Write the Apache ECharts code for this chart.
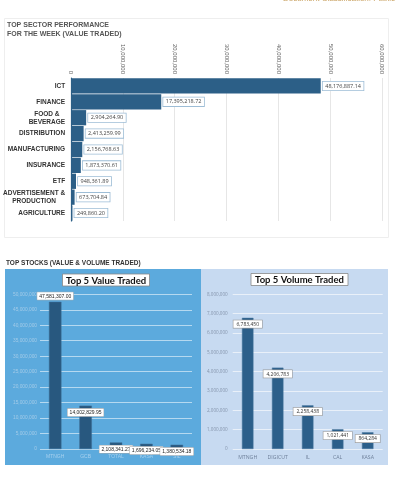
<!DOCTYPE html>
<html>
<head>
<meta charset="utf-8">
<script src="https://cdn.jsdelivr.net/npm/echarts@6/dist/echarts.min.js"></script>
<style>html,body{margin:0;padding:0;background:#fff;}#c{width:412px;height:490px;}</style>
</head>
<body>
<div id="c"></div>
<script>
// ---- data ----
var sectorCategories = ['ICT', 'FINANCE', 'FOOD &\nBEVERAGE', 'DISTRIBUTION', 'MANUFACTURING', 'INSURANCE', 'ETF', 'ADVERTISEMENT &\nPRODUCTION', 'AGRICULTURE'];
var sectorValues = [48176887.14, 17395218.72, 2904264.90, 2413259.99, 2156768.63, 1873370.61, 948361.89, 673704.84, 249860.20];
var sectorTicks = [0, 10000000, 20000000, 30000000, 40000000, 50000000, 60000000];

var valueStocks = ['MTNGH', 'GCB', 'TOTAL', 'KASA', 'SIL'];
var valueTraded = [47581307.00, 14002829.95, 2108341.27, 1696234.05, 1380534.18];
var valueTicks = [0, 5000000, 10000000, 15000000, 20000000, 25000000, 30000000, 35000000, 40000000, 45000000, 50000000];

var volumeStocks = ['MTNGH', 'DIGICUT', 'IL', 'CAL', 'KASA'];
var volumeTraded = [6783450, 4206783, 2258438, 1021441, 864284];
var volumeTicks = [0, 1000000, 2000000, 3000000, 4000000, 5000000, 6000000, 7000000, 8000000];

function fmt(v, d) {
  var s = Number(v).toFixed(d);
  var parts = s.split('.');
  parts[0] = parts[0].replace(/\B(?=(\d{3})+(?!\d))/g, ',');
  return parts.join('.');
}
function tickInfo(t) { return { min: t[0], max: t[t.length - 1], interval: t[1] - t[0] }; }
var st = tickInfo(sectorTicks), vt = tickInfo(valueTicks), ot = tickInfo(volumeTicks);

var chart = echarts.init(document.getElementById('c'), null, { renderer: 'canvas' });
var arial = 'Liberation Sans, Arial, sans-serif';
var cal = 'Open Sans, sans-serif';

var option = {
  backgroundColor: '#ffffff',
  animation: false,
  graphic: [
    { type: 'rect', z: -10, shape: { x: 4.5, y: 18.5, width: 384, height: 219 }, style: { fill: '#fff', stroke: '#eeeeee', lineWidth: 1 } },
    { type: 'rect', z: -10, shape: { x: 5, y: 269, width: 196, height: 196 }, style: { fill: '#5caadd' } },
    { type: 'rect', z: -10, shape: { x: 201, y: 269, width: 187, height: 196 }, style: { fill: '#c7daf1' } },
    { type: 'text', z: 5, left: 283, top: -5, style: { text: 'Document Classification: Public', fill: '#c9a262', font: '8px ' + arial } }
  ],
  title: [
    { text: 'TOP SECTOR PERFORMANCE\nFOR THE WEEK (VALUE TRADED)', left: 7, top: 20.5, padding: 0,
      textStyle: { fontFamily: arial, fontWeight: 'bold', fontSize: 7, color: '#555', lineHeight: 9 } },
    { text: 'TOP STOCKS (VALUE & VOLUME TRADED)', left: 6, top: 259.5, padding: 0,
      textStyle: { fontFamily: arial, fontWeight: 'bold', fontSize: 6.5, color: '#333' } },
    { text: 'Top 5 Value Traded', left: 102, textAlign: 'center', top: 274, padding: [1.5, 4, 1, 4],
      backgroundColor: '#fff', borderColor: '#888', borderWidth: 0.8,
      textStyle: { fontFamily: 'Lato, sans-serif', fontWeight: 'bold', fontSize: 9.5, color: '#111' } },
    { text: 'Top 5 Volume Traded', left: 295.5, textAlign: 'center', top: 273.5, padding: [1.5, 4, 1, 4],
      backgroundColor: '#fff', borderColor: '#888', borderWidth: 0.8,
      textStyle: { fontFamily: 'Lato, sans-serif', fontWeight: 'bold', fontSize: 9.5, color: '#111' } }
  ],
  grid: [
    { left: 71, top: 78, width: 311, height: 143 },
    { left: 40, top: 294.3, width: 152, height: 154.7 },
    { left: 232.7, top: 294.3, width: 150, height: 154.7 }
  ],
  xAxis: [
    { gridIndex: 0, type: 'value', position: 'top', min: st.min, max: st.max, interval: st.interval,
      axisLine: { show: false }, axisTick: { show: false },
      splitLine: { lineStyle: { color: '#e6e6e6', width: 1 } },
      axisLabel: { rotate: 90, margin: 4, fontSize: 6, color: '#666', fontFamily: arial, formatter: function (v) { return fmt(v, 0); } } },
    { gridIndex: 1, type: 'category', data: valueStocks,
      axisLine: { show: false }, axisTick: { show: false },
      axisLabel: { margin: 5, fontSize: 5, color: '#a6d0ee', fontFamily: arial } },
    { gridIndex: 2, type: 'category', data: volumeStocks,
      axisLine: { show: false }, axisTick: { show: false },
      axisLabel: { margin: 6, fontSize: 5.2, color: '#6f819b', fontFamily: cal } }
  ],
  yAxis: [
    { gridIndex: 0, type: 'category', inverse: true, data: sectorCategories,
      axisLine: { show: true, lineStyle: { color: '#2c5f87', width: 1.2 } }, axisTick: { show: false },
      axisLabel: { margin: 6, formatter: function (v) { return v.split('\n').map(function (s) { return '{c|' + s + '}'; }).join('\n'); },
        rich: { c: { align: 'center', fontFamily: arial, fontWeight: 'bold', fontSize: 6.5, color: '#333', lineHeight: 8 } } } },
    { gridIndex: 1, type: 'value', min: vt.min, max: vt.max, interval: vt.interval,
      axisLine: { show: false }, axisTick: { show: false },
      splitLine: { lineStyle: { color: 'rgba(255,255,255,0.55)', width: 1 } },
      axisLabel: { margin: 3, fontSize: 4.8, color: '#a3cbe8', fontFamily: arial, formatter: function (v) { return fmt(v, 0); } } },
    { gridIndex: 2, type: 'value', min: ot.min, max: ot.max, interval: ot.interval,
      axisLine: { show: false }, axisTick: { show: false },
      splitLine: { lineStyle: { color: 'rgba(255,255,255,0.6)', width: 1 } },
      axisLabel: { margin: 5, fontSize: 4.6, color: '#8494ab', fontFamily: cal, formatter: function (v) { return fmt(v, 0); } } }
  ],
  series: [
    { type: 'bar', xAxisIndex: 0, yAxisIndex: 0, data: sectorValues, barCategoryGap: '4%',
      itemStyle: { color: '#2c5f87' },
      label: { show: true, position: 'right', distance: 2, formatter: function (p) { return fmt(p.value, 2); },
        fontFamily: cal, fontSize: 5.5, color: '#444', backgroundColor: '#fff', borderColor: '#9dbdd6', borderWidth: 0.8, padding: [1.5, 2.5, 1, 2.5] } },
    { type: 'bar', xAxisIndex: 1, yAxisIndex: 1, barWidth: 12.5,
      data: valueTraded.map(function (v, i) {
        return i === 0 ? { value: v, label: { position: 'top', distance: 2 } } : { value: v };
      }),
      itemStyle: { color: '#28587f', borderColor: '#3f6f97', borderWidth: 0.5 },
      label: { show: true, position: 'insideTop', distance: 3, formatter: function (p) { return fmt(p.value, 2); },
        fontFamily: arial, fontSize: 5, color: '#222', backgroundColor: '#fff', borderColor: '#aaa', borderWidth: 0.5, padding: [1.5, 2, 1, 2] } },
    { type: 'bar', xAxisIndex: 2, yAxisIndex: 2, barWidth: 11.5, data: volumeTraded,
      itemStyle: { color: '#2c5f8a', borderColor: '#46749c', borderWidth: 0.5 },
      label: { show: true, position: 'insideTop', distance: 2.5, formatter: function (p) { return fmt(p.value, 0); },
        fontFamily: cal, fontSize: 5, color: '#333', backgroundColor: '#fff', borderColor: '#999', borderWidth: 0.6, padding: [1.5, 3, 1, 3] } }
  ]
};
chart.setOption(option);
</script>
</body>
</html>
